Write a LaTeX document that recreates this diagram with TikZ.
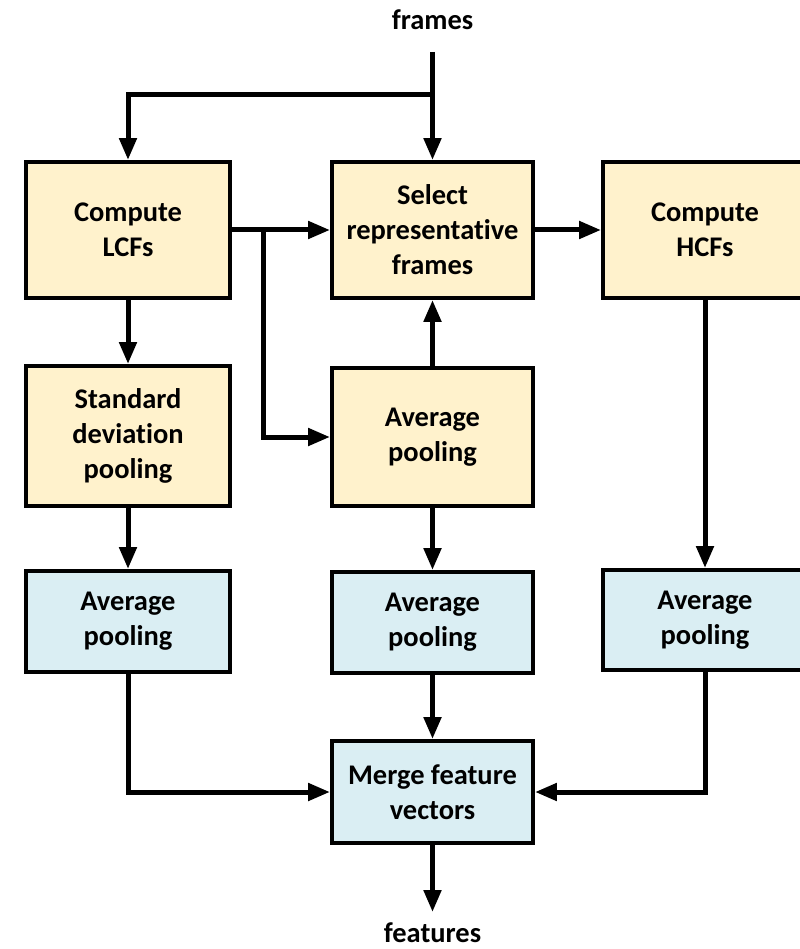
\documentclass[tikz,border=0pt]{standalone}
\usepackage{fontspec}
\setmainfont{Carlito}[Ligatures=NoCommon]
\usetikzlibrary{arrows.meta}
\definecolor{boxyellow}{HTML}{FFF2CC}
\definecolor{boxblue}{HTML}{DAEEF3}
\tikzset{
  blk/.style={draw, line width=0.08cm, align=center, inner sep=2pt,
    font=\fontsize{16.2}{19.9}\selectfont\bfseries},
  yblk/.style={blk, fill=boxyellow},
  bblk/.style={blk, fill=boxblue},
  arr/.style={line width=0.1cm, -{Triangle[length=0.44cm,width=0.34cm]}},
  lbl/.style={font=\fontsize{16.2}{19.9}\selectfont\bfseries}
}
\begin{document}
\begin{tikzpicture}[x=0.02cm,y=-0.02cm]%
     \useasboundingbox (0,0) rectangle (800,949);
     % top row
     \node[yblk, minimum width=4.08cm, minimum height=2.72cm] at (128,230) (lcf) {Compute\\LCFs};
     \node[yblk, minimum width=4.02cm, minimum height=2.72cm] at (432.5,230) (sel) {Select\\representative\\frames};
     \node[yblk, minimum width=4.08cm, minimum height=2.72cm] at (705,230) (hcf) {Compute\\HCFs};
     % second row
     \node[yblk, minimum width=4.08cm, minimum height=2.8cm] at (128,436) (std) {Standard\\deviation\\pooling};
     \node[yblk, minimum width=4.02cm, minimum height=2.76cm] at (432.5,437) (avg) {Average\\pooling};
     % pooling row
     \node[bblk, minimum width=4.08cm, minimum height=2.02cm] at (128,621.5) (pl) {Average\\pooling};
     \node[bblk, minimum width=4.02cm, minimum height=2.02cm] at (432.5,622.5) (pm) {Average\\pooling};
     \node[bblk, minimum width=4.08cm, minimum height=2.0cm] at (705,620) (pr) {Average\\pooling};
     \node[bblk, minimum width=4.02cm, minimum height=2.04cm] at (432.5,792) (mrg) {Merge feature\\vectors};

     \node[lbl] at (432.5,20) (in) {frames};
     \node[lbl] at (432.5,933) (out) {features};
     \coordinate (top) at (432.5,52);
     \coordinate (split) at (432.5,95);
     \coordinate (br) at (263,230);
     \coordinate (end) at (432.5,912);

      \draw [arr] (top) -- (sel.north);
      \draw [arr] (split) -| (lcf.north);
      \draw [arr] (lcf.east) -- (sel.west);
      \draw [arr] (br) |- (avg.west);
      \draw [arr] (sel.east) -- (hcf.west);
      \draw [arr] (lcf.south) -- (std.north);
      \draw [arr] (avg.north) -- (sel.south);
      \draw [arr] (hcf.south) -- (pr.north);
      \draw [arr] (std.south) -- (pl.north);
      \draw [arr] (avg.south) -- (pm.north);
      \draw [arr] (pm.south) -- (mrg.north);
      \draw [arr] (pl.south) |- (mrg.west);
      \draw [arr] (pr.south) |- (mrg.east);
      \draw [arr] (mrg.south) -- (end);
\end{tikzpicture}
\end{document}
